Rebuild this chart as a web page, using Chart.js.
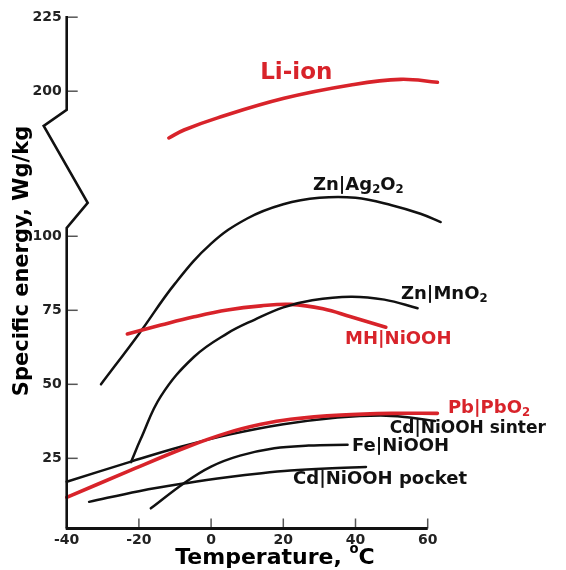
<!DOCTYPE html>
<html>
<head>
<meta charset="utf-8">
<script src="https://cdn.jsdelivr.net/npm/chart.js@4/dist/chart.umd.min.js"></script>
<style>
  body { margin: 0; background: #fff; }
  canvas { display: block; }
</style>
</head>
<body>
<canvas id="grafica" width="566" height="570"></canvas>
<script>
// temperatures (ºC) and specific energy (Wh/kg)
const liIonT = [-11.7, -7.5, 1.8, 20.2, 38.7, 52.5, 62.7];
const liIonE = [184.2, 186.9, 191, 197.6, 202.1, 204, 203];

const znAgT = [-30.5, -20, -10, 0, 10, 20, 30, 40, 50, 58, 63.6];
const znAgE = [50, 67, 84, 97.5, 106, 110.8, 113, 113, 110.5, 107.6, 104.8];

const znMnT = [-22.2, -19.5, -13.9, -4.7, 4.5, 12, 20, 28, 38.7, 48, 57.2];
const znMnE = [23.7, 31.5, 46, 59.3, 67.2, 71.8, 76, 78.4, 79.6, 78.6, 75.7];

const mhT = [-23.2, -13.9, -4.7, 4.5, 13.8, 22, 31, 38.7, 48.4];
const mhE = [67, 70, 72.8, 75.1, 76.5, 77, 75.5, 72.8, 69.3];

const pbT = [-40, -23.2, -6.5, 4.5, 13.8, 22, 35.9, 50.7, 62.7];
const pbE = [11.8, 20.5, 28.9, 33.6, 36.5, 38.2, 39.6, 40.2, 40.2];

const sinterT = [-40, -22.2, -8.4, 5, 20, 35, 47, 55, 62];
const sinterE = [17.1, 23.9, 28.9, 33, 36.5, 38.8, 39.5, 38.8, 37.6];

const feT = [-16.7, -7.5, 0, 8, 17.5, 27, 37.8];
const feE = [8.1, 16.6, 22.2, 25.9, 28.4, 29.3, 29.6];

const pocketT = [-33.8, -20, -6.5, 5, 14, 22, 32, 42.9];
const pocketE = [10.3, 13.9, 16.7, 18.7, 20, 20.9, 21.6, 22.1];

const xTicks = [-40, -20, 0, 20, 40, 60];
const yTicks = [25, 50, 75, 100, 200, 225];

// the axis is broken between 100 and ~175
const SALTO = 51;
function aEje(v) { return v > 150 ? v - SALTO : v; }
function deEje(v) { return v > 120 ? v + SALTO : v; }

const ROJO = '#d8232a';
const NEGRO = '#111';

function puntos(ts, es) {
    return ts.map((t, i) => ({ x: t, y: aEje(es[i]) }));
}

function serie(nombre, ts, es, color, ancho, orden) {
    return {
        label: nombre,
        data: puntos(ts, es),
        borderColor: color,
        borderWidth: ancho,
        pointRadius: 0,
        fill: false,
        clip: false,
        tension: 0.4,
        borderCapStyle: 'round',
        order: orden
    };
}

const etiquetas = [
    { partes: [{ t: 'Li-ion' }], x: 13.6, y: 206.3, size: 23, color: ROJO },
    { partes: [{ t: 'Zn|Ag' }, { t: '2', sub: true }, { t: 'O' }, { t: '2', sub: true }], x: 28.2, y: 117.3, size: 18, color: NEGRO },
    { partes: [{ t: 'Zn|MnO' }, { t: '2', sub: true }], x: 52.6, y: 80.5, size: 18, color: NEGRO },
    { partes: [{ t: 'MH|NiOOH' }], x: 37.1, y: 65.3, size: 18, color: ROJO },
    { partes: [{ t: 'Pb|PbO' }, { t: '2', sub: true }], x: 65.6, y: 42.0, size: 18, color: ROJO },
    { partes: [{ t: 'Cd|NiOOH sinter' }], x: 49.5, y: 35.1, size: 17, color: NEGRO },
    { partes: [{ t: 'Fe|NiOOH' }], x: 39, y: 29.2, size: 18, color: NEGRO },
    { partes: [{ t: 'Cd|NiOOH pocket' }], x: 22.7, y: 17.8, size: 18, color: NEGRO }
];

function dibujarPartes(ctx, partes, x, y, size, color) {
    let cx = x;
    ctx.fillStyle = color;
    ctx.textBaseline = 'middle';
    ctx.textAlign = 'left';
    partes.forEach(p => {
        let s = size, dy = 0;
        if (p.sub) { s = size * 0.65; dy = size * 0.3; }
        if (p.sup) { s = size * 0.6; dy = -size * 0.38; }
        ctx.font = `bold ${s}px "DejaVu Sans"`;
        ctx.fillText(p.t, cx, y + dy);
        cx += ctx.measureText(p.t).width;
    });
    return cx - x;
}

function anchoPartes(ctx, partes, size) {
    let w = 0;
    partes.forEach(p => {
        const s = p.sub ? size * 0.65 : (p.sup ? size * 0.6 : size);
        ctx.font = `bold ${s}px "DejaVu Sans"`;
        w += ctx.measureText(p.t).width;
    });
    return w;
}

const ejes = {
    id: 'ejes',
    afterDraw(chart) {
        const { ctx, chartArea: a, scales: { x, y } } = chart;
        ctx.save();

        // tick marks pointing inwards
        ctx.strokeStyle = '#555';
        ctx.lineWidth = 1.5;
        xTicks.slice(1).forEach(t => {
            const px = x.getPixelForValue(t);
            ctx.beginPath();
            ctx.moveTo(px, a.bottom);
            ctx.lineTo(px, a.bottom - 10);
            ctx.stroke();
        });
        yTicks.forEach(v => {
            const py = y.getPixelForValue(aEje(v));
            ctx.beginPath();
            ctx.moveTo(a.left, py);
            ctx.lineTo(a.left + 11, py);
            ctx.stroke();
        });

        // axes, y with the zigzag break
        ctx.strokeStyle = NEGRO;
        ctx.lineWidth = 3;
        ctx.lineJoin = 'miter';
        ctx.beginPath();
        ctx.moveTo(a.left - 1, a.bottom);
        ctx.lineTo(a.right, a.bottom);
        ctx.stroke();

        ctx.lineWidth = 2.6;
        ctx.beginPath();
        ctx.moveTo(a.left, a.bottom);
        ctx.lineTo(a.left, y.getPixelForValue(102.8));
        ctx.lineTo(a.left + 21, y.getPixelForValue(111.3));
        ctx.lineTo(a.left - 23, y.getPixelForValue(137.3));
        ctx.lineTo(a.left, y.getPixelForValue(142.7));
        ctx.lineTo(a.left, a.top);
        ctx.stroke();

        // curve labels
        etiquetas.forEach(e => {
            dibujarPartes(ctx, e.partes, x.getPixelForValue(e.x), y.getPixelForValue(aEje(e.y)), e.size, e.color);
        });

        // axis titles
        const tituloX = [{ t: 'Temperature, ' }, { t: 'o', sup: true }, { t: 'C' }];
        const w = anchoPartes(ctx, tituloX, 22);
        dibujarPartes(ctx, tituloX, 275 - w / 2, 558, 22, '#000');

        ctx.translate(23, 261);
        ctx.rotate(-Math.PI / 2);
        ctx.font = 'bold 21px "DejaVu Sans"';
        ctx.fillStyle = '#000';
        ctx.textAlign = 'center';
        ctx.textBaseline = 'middle';
        ctx.fillText('Specific energy, Wg/kg', 0, 0);
        ctx.restore();
    }
};

function inicializarGrafica() {
    const ctx = document.getElementById('grafica').getContext('2d');

    new Chart(ctx, {
        type: 'line',
        data: {
            datasets: [
                serie('Zn|MnO2', znMnT, znMnE, NEGRO, 2.5, 0),
                serie('Li-ion', liIonT, liIonE, ROJO, 3.6, 1),
                serie('MH|NiOOH', mhT, mhE, ROJO, 3.6, 1),
                serie('Pb|PbO2', pbT, pbE, ROJO, 3.6, 1),
                serie('Zn|Ag2O2', znAgT, znAgE, NEGRO, 2.5, 2),
                serie('Cd|NiOOH sinter', sinterT, sinterE, NEGRO, 2.5, 2),
                serie('Fe|NiOOH', feT, feE, NEGRO, 2.5, 2),
                serie('Cd|NiOOH pocket', pocketT, pocketE, NEGRO, 2.5, 2)
            ]
        },
        options: {
            responsive: false,
            animation: false,
            layout: { padding: { top: 16, right: 138.3, left: 0, bottom: 0 } },
            scales: {
                x: {
                    type: 'linear',
                    min: -40,
                    max: 60,
                    afterBuildTicks: scale => { scale.ticks = xTicks.map(v => ({ value: v })); },
                    afterFit: scale => { scale.height = 41.5; },
                    grid: { display: false, drawTicks: false },
                    border: { display: false },
                    ticks: {
                        padding: 3,
                        color: '#222',
                        font: { family: 'DejaVu Sans', size: 14, weight: 'bold' }
                    }
                },
                y: {
                    type: 'linear',
                    min: 1.3,
                    max: 174.4,
                    afterBuildTicks: scale => { scale.ticks = yTicks.map(v => ({ value: aEje(v) })); },
                    afterFit: scale => { scale.width = 66.7; },
                    grid: { display: false, drawTicks: false },
                    border: { display: false },
                    ticks: {
                        padding: 5,
                        color: '#222',
                        font: { family: 'DejaVu Sans', size: 14, weight: 'bold' },
                        callback: value => Math.round(deEje(value))
                    }
                }
            },
            plugins: {
                legend: { display: false },
                tooltip: { enabled: false }
            }
        },
        plugins: [ejes]
    });
}

inicializarGrafica();
</script>
</body>
</html>
